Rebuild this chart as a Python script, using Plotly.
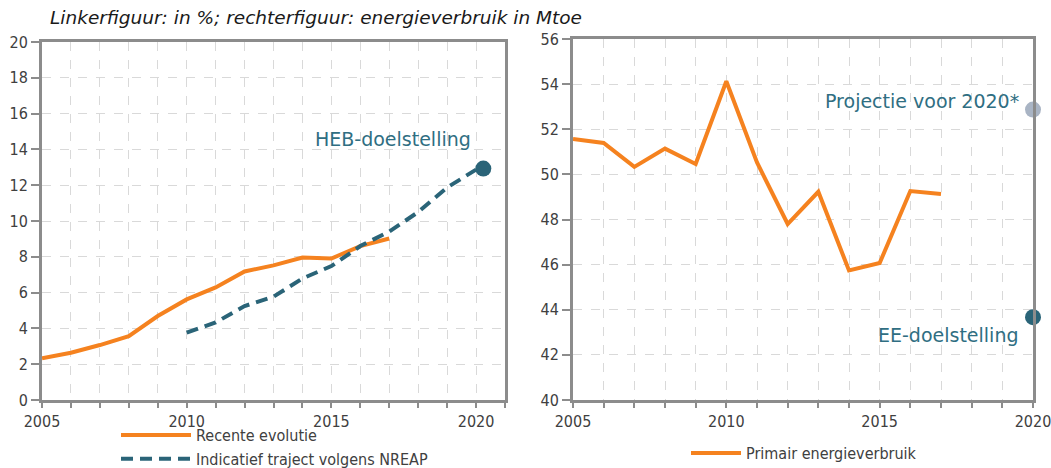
import plotly.graph_objects as go

# left panel: share renewable energy (%)
years_recent = list(range(2005, 2018))
heb_recent = [2.33, 2.64, 3.07, 3.57, 4.69, 5.62, 6.29, 7.18, 7.52, 7.96, 7.9, 8.6, 9.02]
years_nreap = list(range(2010, 2021))
heb_nreap = [3.76, 4.33, 5.25, 5.77, 6.79, 7.48, 8.6, 9.41, 10.5, 11.87, 12.87]
heb_target_x = [2020.25]
heb_target_y = [12.93]

# right panel: primary energy consumption (Mtoe)
years_primary = list(range(2005, 2018))
primary = [51.57, 51.39, 50.33, 51.14, 50.46, 54.13, 50.53, 47.8, 49.23, 45.74, 46.07, 49.26, 49.13]
projection_x = [2020]
projection_y = [52.87]
ee_target_x = [2020]
ee_target_y = [43.67]

ORANGE = "#f5821f"
TEAL = "#2a6478"
TEXT_TEAL = "#2f6e82"
GREY_DOT = "#a9b4c4"
FONT = "DejaVu Sans Condensed, DejaVu Sans, sans-serif"

fig = go.Figure()

fig.add_trace(go.Scatter(x=years_recent, y=heb_recent, mode="lines", name="Recente evolutie",
                         line=dict(color=ORANGE, width=4), xaxis="x", yaxis="y",
                         legend="legend", legendgroup="a"))
fig.add_trace(go.Scatter(x=years_nreap, y=heb_nreap, mode="lines", name="Indicatief traject volgens NREAP",
                         line=dict(color=TEAL, width=4, dash="12px,7px"), xaxis="x", yaxis="y",
                         legend="legend", legendgroup="b"))
fig.add_trace(go.Scatter(x=heb_target_x, y=heb_target_y, mode="markers", showlegend=False,
                         marker=dict(color=TEAL, size=16), cliponaxis=False, xaxis="x", yaxis="y"))

fig.add_trace(go.Scatter(x=years_primary, y=primary, mode="lines", name="Primair energieverbruik",
                         line=dict(color=ORANGE, width=4), xaxis="x2", yaxis="y2", legend="legend2"))
fig.add_trace(go.Scatter(x=projection_x, y=projection_y, mode="markers", showlegend=False,
                         marker=dict(color=GREY_DOT, size=16), cliponaxis=False, xaxis="x2", yaxis="y2"))
fig.add_trace(go.Scatter(x=ee_target_x, y=ee_target_y, mode="markers", showlegend=False,
                         marker=dict(color=TEAL, size=16), cliponaxis=False, xaxis="x2", yaxis="y2"))

W, H = 1051, 468

def xaxis(domain, rng):
    return dict(domain=domain, range=rng, tickvals=[2005, 2010, 2015, 2020], ticks="outside", ticklen=5,
                tickwidth=2, tickcolor="#8c8c8c", showline=True, mirror=True, linecolor="#8c8c8c",
                linewidth=3, showgrid=True, gridcolor="#d9d9d9", griddash="dash", gridwidth=1,
                minor=dict(dtick=1, showgrid=True, gridcolor="#d9d9d9", griddash="dash", ticks="outside",
                           ticklen=5, tickwidth=2, tickcolor="#8c8c8c"),
                tickfont=dict(family=FONT, size=16, color="#404040"), zeroline=False, fixedrange=True,
                automargin=False, ticklabeloverflow="allow")

def yaxis(domain, rng, anchor):
    return dict(domain=domain, range=rng, dtick=2, ticks="outside", ticklen=8, tickwidth=2,
                tickcolor="#8c8c8c", showline=True, mirror=True, linecolor="#8c8c8c", linewidth=3,
                showgrid=True, gridcolor="#d9d9d9", griddash="dash", gridwidth=1, anchor=anchor,
                tickfont=dict(family=FONT, size=16, color="#404040"), zeroline=False, fixedrange=True,
                automargin=False, ticklabeloverflow="allow")

fig.update_layout(
    width=W, height=H,
    margin=dict(l=0, r=0, t=0, b=0, autoexpand=False),
    paper_bgcolor="white", plot_bgcolor="white",
    xaxis=dict(xaxis([42 / W, 505 / W], [2005, 2021]), anchor="y"),
    yaxis=yaxis([1 - 400 / H, 1 - 42 / H], [0, 20], "x"),
    xaxis2=dict(xaxis([573 / W, 1033 / W], [2005, 2020]), anchor="y2"),
    yaxis2=yaxis([1 - 400 / H, 1 - 39 / H], [40, 56], "x2"),
    legend=dict(x=116 / W, y=1 - 418 / H, xanchor="left", yanchor="top", orientation="v",
                font=dict(family=FONT, size=16, color="#404040"), bgcolor="rgba(0,0,0,0)",
                itemwidth=70, traceorder="grouped", tracegroupgap=0),
    legend2=dict(x=686 / W, y=1 - 436 / H, xanchor="left", yanchor="top", orientation="v",
                 font=dict(family=FONT, size=16, color="#404040"), bgcolor="rgba(0,0,0,0)",
                 itemwidth=50),
    showlegend=True,
    annotations=[
        dict(text="<i>Linkerfiguur: in %; rechterfiguur: energieverbruik in Mtoe</i>", xref="paper", yref="paper",
             x=48 / W, y=1 - 18 / H, xanchor="left", yanchor="middle", showarrow=False,
             font=dict(family="DejaVu Sans", size=18.5, color="#1a1a1a")),
        dict(text="HEB-doelstelling", xref="x", yref="y", x=2019.9, y=14.6, xanchor="right", yanchor="middle",
             showarrow=False, font=dict(family="DejaVu Sans", size=19, color=TEXT_TEAL)),
        dict(text="Projectie voor 2020*", xref="x2", yref="y2", x=2019.6, y=53.25, xanchor="right",
             yanchor="middle", showarrow=False, font=dict(family="DejaVu Sans", size=19, color=TEXT_TEAL)),
        dict(text="EE-doelstelling", xref="x2", yref="y2", x=2019.6, y=42.9, xanchor="right",
             yanchor="middle", showarrow=False, font=dict(family="DejaVu Sans", size=19, color=TEXT_TEAL)),
    ],
)

fig.write_html("out.html", config={"displayModeBar": False},
               post_script="document.body.style.margin='0px';")
